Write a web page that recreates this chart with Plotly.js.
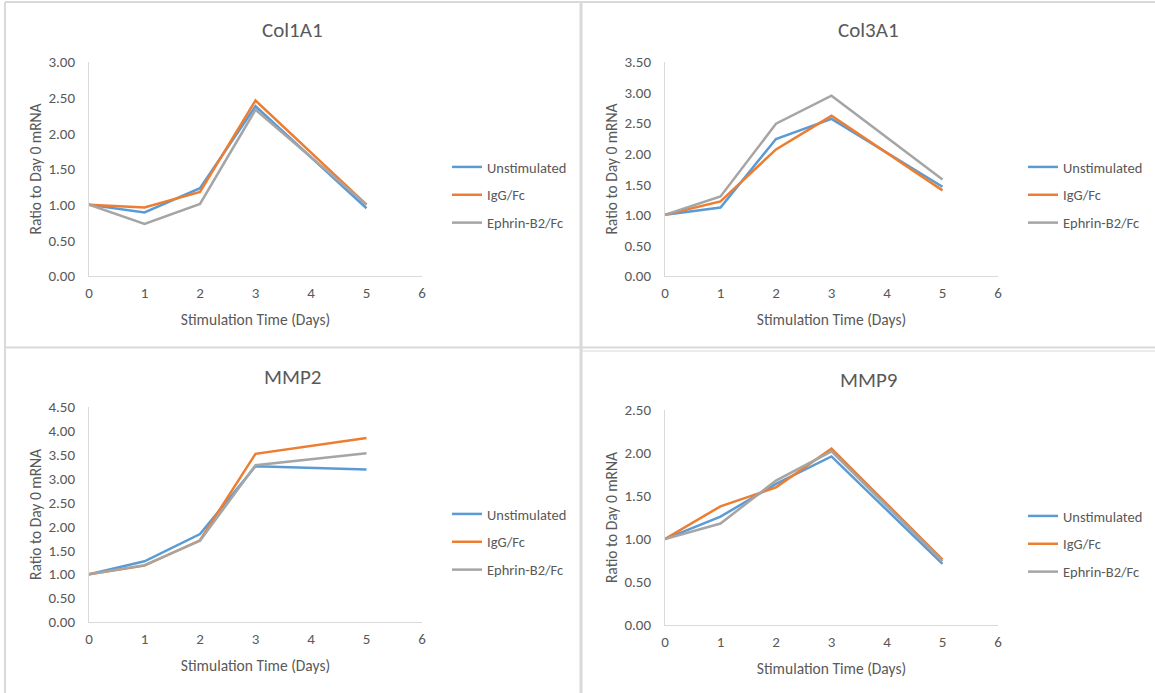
<!DOCTYPE html>
<html>
<head>
<meta charset="utf-8">
<script src="https://cdn.plot.ly/plotly-3.0.1.min.js"></script>
<style>
  html, body { margin: 0; padding: 0; background: #fff; }
  #chart { width: 1155px; height: 693px; }
</style>
</head>
<body>
<div id="chart"></div>
<script>
// ---- data ----
const days = [0, 1, 2, 3, 5];
const seriesNames = ["Unstimulated", "IgG/Fc", "Ephrin-B2/Fc"];
const panelTitles = ["Col1A1", "Col3A1", "MMP2", "MMP9"];

const col1a1_unstim = [1.00, 0.89, 1.23, 2.38, 0.95];
const col1a1_igg    = [1.00, 0.96, 1.18, 2.46, 1.00];
const col1a1_ephrin = [1.00, 0.73, 1.01, 2.33, 1.00];

const col3a1_unstim = [1.00, 1.12, 2.24, 2.57, 1.46];
const col3a1_igg    = [1.00, 1.22, 2.07, 2.62, 1.40];
const col3a1_ephrin = [1.00, 1.30, 2.49, 2.95, 1.58];

const mmp2_unstim = [1.00, 1.27, 1.84, 3.26, 3.19];
const mmp2_igg    = [1.00, 1.18, 1.71, 3.52, 3.85];
const mmp2_ephrin = [1.00, 1.19, 1.70, 3.28, 3.53];

const mmp9_unstim = [1.00, 1.26, 1.64, 1.96, 0.71];
const mmp9_igg    = [1.00, 1.38, 1.60, 2.05, 0.76];
const mmp9_ephrin = [1.00, 1.18, 1.68, 2.02, 0.74];

const yMax = [3.0, 3.5, 4.5, 2.5];
const xTickVals = [0, 1, 2, 3, 4, 5, 6];

// ---- styling ----
const colors = ["#5B9BD5", "#ED7D31", "#A5A5A5"];
const FONT = "Calibri, Carlito, Lato, 'Open Sans', sans-serif";
const TXT = "#595959";
const W = 1155, H = 693;
const px = v => v / W;
const py = v => 1 - v / H;

const panels = [
  { data: [col1a1_unstim, col1a1_igg, col1a1_ephrin], x0: 89,  x1: 422, y0: 62,  y1: 276, tx: 292, ty: 30,  lx: 447,  ly: 151 },
  { data: [col3a1_unstim, col3a1_igg, col3a1_ephrin], x0: 665, x1: 998, y0: 62,  y1: 276, tx: 868, ty: 30,  lx: 1023, ly: 151 },
  { data: [mmp2_unstim, mmp2_igg, mmp2_ephrin],       x0: 89,  x1: 422, y0: 407, y1: 622, tx: 292, ty: 377, lx: 447,  ly: 498 },
  { data: [mmp9_unstim, mmp9_igg, mmp9_ephrin],       x0: 665, x1: 998, y0: 410, y1: 625, tx: 868, ty: 380, lx: 1023, ly: 500 }
];

const traces = [];
const layout = {
  width: W, height: H,
  margin: { l: 0, r: 0, t: 0, b: 0 },
  paper_bgcolor: "#ffffff",
  plot_bgcolor: "#ffffff",
  font: { family: FONT, color: TXT, size: 14 },
  hovermode: false,
  annotations: [],
  shapes: []
};

panels.forEach((p, i) => {
  const n = i + 1;
  const xa = n === 1 ? "xaxis" : "xaxis" + n;
  const ya = n === 1 ? "yaxis" : "yaxis" + n;
  const lg = n === 1 ? "legend" : "legend" + n;
  p.data.forEach((vals, s) => {
    traces.push({
      type: "scatter", mode: "lines",
      x: days, y: vals,
      name: seriesNames[s],
      line: { color: colors[s], width: 2.5 },
      xaxis: n === 1 ? "x" : "x" + n,
      yaxis: n === 1 ? "y" : "y" + n,
      legend: lg,
      legendgroup: "p" + n + "s" + s
    });
  });
  layout[xa] = {
    domain: [px(p.x0), px(p.x1)],
    anchor: n === 1 ? "y" : "y" + n,
    range: [0, 6], tickvals: xTickVals, ticktext: xTickVals.map(String),
    showline: true, linecolor: "#d9d9d9", linewidth: 1,
    showgrid: false, zeroline: false, ticks: "",
    ticklabelstandoff: 3,
    tickfont: { family: FONT, size: 15, color: TXT },
    title: { text: "Stimulation Time (Days)", font: { family: FONT, size: 15.5, color: TXT }, standoff: 13 },
    fixedrange: true
  };
  layout[ya] = {
    domain: [py(p.y1), py(p.y0)],
    anchor: n === 1 ? "x" : "x" + n,
    range: [0, yMax[i]], dtick: 0.5, tickformat: ".2f",
    showline: true, linecolor: "#d9d9d9", linewidth: 1,
    showgrid: false, zeroline: false, ticks: "",
    ticklabelstandoff: 10,
    tickfont: { family: FONT, size: 15, color: TXT },
    title: { text: "Ratio to Day 0 mRNA", font: { family: FONT, size: 15.5, color: TXT }, standoff: 2 },
    fixedrange: true
  };
  layout[lg] = {
    x: px(p.lx), y: py(p.ly), xanchor: "left", yanchor: "top",
    font: { family: FONT, size: 14.5, color: TXT },
    bgcolor: "rgba(0,0,0,0)", tracegroupgap: 6,
    traceorder: "grouped", itemwidth: 30
  };
  layout.annotations.push({
    text: panelTitles[i], xref: "paper", yref: "paper",
    x: px(p.tx), y: py(p.ty), xanchor: "center", yanchor: "middle",
    showarrow: false, font: { family: FONT, size: 21, color: TXT }
  });
});

// panel borders
const bc = "#d9d9d9";
function seg(x0, y0, x1, y1, w) {
  layout.shapes.push({ type: "line", xref: "paper", yref: "paper",
    x0: px(x0), y0: py(y0), x1: px(x1), y1: py(y1), line: { color: bc, width: w } });
}
seg(5, 2, 1155, 2, 2);
seg(5, 2, 5, 693, 2);
seg(581, 2, 581, 693, 3);
seg(5, 347.5, 1155, 347.5, 2);
seg(582, 351, 1155, 351, 1);

Plotly.newPlot("chart", traces, layout, { displayModeBar: false, staticPlot: true });
</script>
</body>
</html>
